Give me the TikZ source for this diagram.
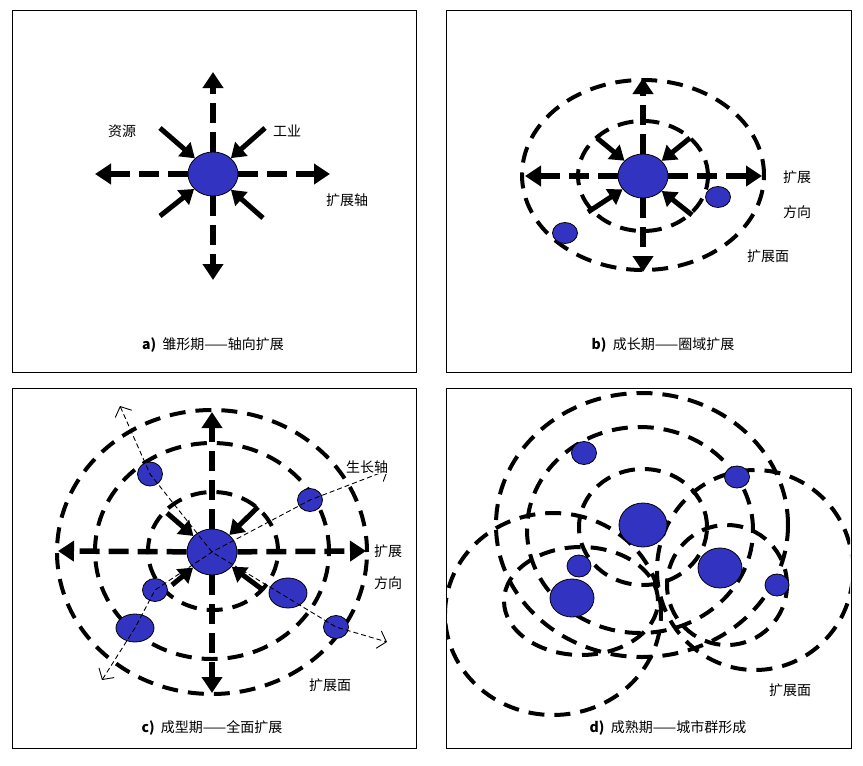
\documentclass[tikz,border=0pt]{standalone}
\usepackage{fontspec}
\setmainfont{Noto Sans CJK SC}
\usetikzlibrary{arrows.meta,shapes.geometric}
\begin{document}
\begin{tikzpicture}[x=1pt,y=-1pt,
  panel/.style={draw,line width=1pt},
  city/.style={draw,fill=blue!70!black!80,line width=0.8pt,inner sep=0pt},
  arm/.style={line width=5.5pt,dash pattern=on 20pt off 9pt,-{Triangle[length=16pt,width=20pt]}},
  ring/.style={line width=4pt,dash pattern=on 16pt off 10pt},
  inarrow/.style={line width=5pt,-{Triangle[length=14pt,width=18pt]}},
  axis/.style={line width=0.9pt,dash pattern=on 5pt off 3pt,{Straight Barb[length=8pt,width=18pt]}-{Straight Barb[length=8pt,width=18pt]}},
  lbl/.style={font=\fontsize{14}{14}\selectfont},
  captext/.style={font=\fontsize{14}{14}\selectfont}]
\useasboundingbox (0,0) rectangle (863,766);
\fill[white] (0,0) rectangle (863,766);
\node[panel,minimum width=404pt,minimum height=362pt,anchor=north west] (pa) at (12,10) {};
\node[panel,minimum width=405pt,minimum height=362pt,anchor=north west] (pb) at (446,10) {};
\node[panel,minimum width=404pt,minimum height=360pt,anchor=north west] (pc) at (12,388) {};
\node[panel,minimum width=405pt,minimum height=360pt,anchor=north west] (pd) at (446,388) {};

% ---- panel a
\node[city,ellipse,minimum width=50pt,minimum height=44pt] (ca) at (213,174) {};
\coordinate (au) at (213,72); \coordinate (ad) at (213,280);
\coordinate (al) at (95,174); \coordinate (ar) at (330,174);
\foreach \t in {au,ad,al,ar} \draw[arm] (ca) -- (\t);
\coordinate (a1) at (160,128); \coordinate (a2) at (265,128);
\coordinate (a3) at (160,216); \coordinate (a4) at (263,218);
\foreach \s in {a1,a2,a3,a4} \draw[inarrow] (\s) -- (ca);
\node[lbl] (ta1) at (122,131) {资源};
\node[lbl] (ta2) at (287,131) {工业};
\node[lbl] (ta3) at (347,200) {扩展轴};
\node[captext] (capa) at (213,345) {\textbf{a)}\ \ 雏形期——轴向扩展};

% ---- panel b
\draw[ring] (643,175) ellipse (121pt and 95pt);
\draw[ring] (643,176) ellipse (65pt and 55pt);
\node[city,ellipse,minimum width=50pt,minimum height=44pt] (cb) at (643,176) {};
\node[city,ellipse,minimum width=25pt,minimum height=21pt] (b1) at (718,197) {};
\node[city,ellipse,minimum width=25pt,minimum height=21pt] (b2) at (565,233) {};
\coordinate (bu) at (643,78); \coordinate (bd) at (643,272);
\coordinate (bl) at (525,176); \coordinate (br) at (762,176);
\foreach \t in {bu,bd,bl,br} \draw[arm] (cb) -- (\t);
\coordinate (b3) at (597,138); \coordinate (b4) at (690,138);
\coordinate (b5) at (588,212); \coordinate (b6) at (692,215);
\foreach \s in {b3,b4,b5,b6} \draw[inarrow] (\s) -- (cb);
\node[lbl] (tb1) at (797,177) {扩展};
\node[lbl] (tb2) at (797,212) {方向};
\node[lbl] (tb3) at (768,256) {扩展面};
\node[captext] (capb) at (663,345) {\textbf{b)}\ \ 成长期——圈域扩展};

% ---- panel c
\draw[ring] (212,552) ellipse (155pt and 142pt);
\draw[ring] (212,551) ellipse (117pt and 108pt);
\draw[ring] (213,551) ellipse (65pt and 59pt);
\node[city,ellipse,minimum width=50pt,minimum height=46pt] (cc) at (212,552) {};
\node[city,ellipse,minimum width=25pt,minimum height=24pt] (c1) at (150,474) {};
\node[city,ellipse,minimum width=25pt,minimum height=23pt] (c2) at (310,500) {};
\node[city,ellipse,minimum width=25pt,minimum height=23pt] (c3) at (155,590) {};
\node[city,ellipse,minimum width=38pt,minimum height=28pt] (c4) at (135,628) {};
\node[city,ellipse,minimum width=38pt,minimum height=30pt] (c5) at (288,593) {};
\node[city,ellipse,minimum width=25pt,minimum height=23pt] (c6) at (336,627) {};
\coordinate (cu) at (212,412); \coordinate (cd) at (212,693);
\coordinate (cl) at (58,551); \coordinate (cr) at (366,551);
\foreach \t in {cu,cd,cl,cr} \draw[arm] (cc) -- (\t);
\coordinate (x1) at (120,406); \coordinate (x2) at (387,642);
\coordinate (x3) at (102,680); \coordinate (x4) at (388,470);
\draw[axis] (x1) -- (c1.center) -- (cc.center) -- (c6.center) -- (x2);
\draw[axis] (x3) -- (c4.center) -- (c3.center) -- (cc.center) -- (c2.center) -- (x4);
\coordinate (c7) at (167,513); \coordinate (c8) at (258,507);
\coordinate (c9) at (172,585); \coordinate (c10) at (263,590);
\foreach \s in {c7,c8,c9,c10} \draw[inarrow] (\s) -- (cc);
\node[lbl,fill=white,inner sep=1pt] (tc1) at (367,467) {生长轴};
\node[lbl] (tc2) at (388,551) {扩展};
\node[lbl] (tc3) at (388,583) {方向};
\node[lbl] (tc4) at (330,685) {扩展面};
\node[captext] (capc) at (212,728) {\textbf{c)}\ \ 成型期——全面扩展};

% ---- panel d
\begin{scope}
\clip (447,389) rectangle (850,747);
\draw[ring] (642,525) ellipse (146pt and 132pt);
\draw[ring] (640,530) ellipse (113pt and 103pt);
\draw[ring] (643,527) ellipse (64pt and 58pt);
\draw[ring] (727,585) ellipse (60pt and 60pt);
\draw[ring] (755,570) ellipse (98pt and 100pt);
\draw[ring] (581,601) ellipse (77pt and 54pt);
\draw[ring] (553,614) ellipse (108pt and 101pt);
\end{scope}
\node[city,ellipse,minimum width=48pt,minimum height=44pt] (d0) at (643,525) {};
\node[city,ellipse,minimum width=44pt,minimum height=40pt] (d1) at (720,568) {};
\node[city,ellipse,minimum width=44pt,minimum height=38pt] (d2) at (572,598) {};
\node[city,ellipse,minimum width=25pt,minimum height=23pt] (d3) at (584,453) {};
\node[city,ellipse,minimum width=25pt,minimum height=22pt] (d4) at (737,477) {};
\node[city,ellipse,minimum width=24pt,minimum height=22pt] (d5) at (777,585) {};
\node[city,ellipse,minimum width=24pt,minimum height=22pt] (d6) at (579,566) {};
\node[lbl] (td1) at (790,690) {扩展面};
\node[captext] (capd) at (668,728) {\textbf{d)}\ \ 成熟期——城市群形成};
\end{tikzpicture}
\end{document}
